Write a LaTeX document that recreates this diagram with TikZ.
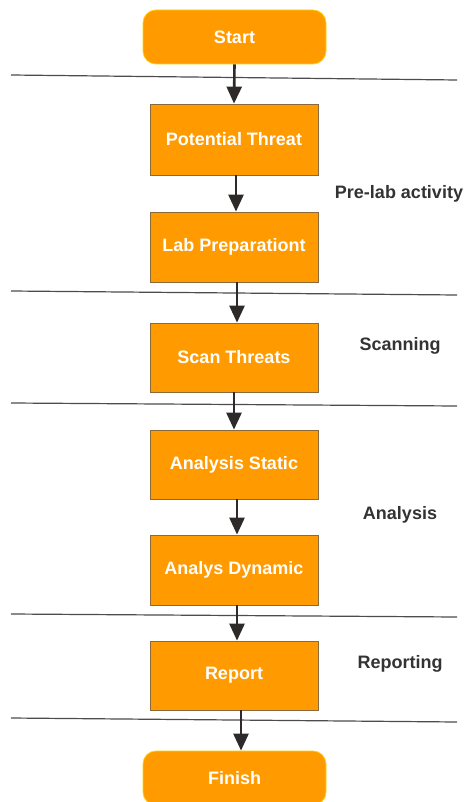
\documentclass[tikz,border=0pt]{standalone}
\usepackage{fontspec}
\setmainfont{Liberation Sans}
\usetikzlibrary{arrows.meta}
\definecolor{boxorange}{HTML}{FF9A00}
\definecolor{boxedge}{HTML}{8A6A3A}
\definecolor{roundedge}{HTML}{FFD000}
\definecolor{arrowdark}{HTML}{2E2A2A}
\definecolor{labeltext}{HTML}{333333}
\tikzset{
  stepbox/.style={draw=boxedge, line width=0.8pt, fill=boxorange, minimum width=168pt, inner sep=0pt,
    text=white, font=\bfseries\fontsize{18}{21}\selectfont},
  termbox/.style={draw=roundedge, line width=0.8pt, fill=boxorange, rounded corners=13pt,
    minimum width=183pt, minimum height=54pt, inner sep=0pt,
    text=white, font=\bfseries\fontsize{18}{21}\selectfont},
  flowarrow/.style={draw=arrowdark, line width=2.6pt, -{Triangle[width=15pt,length=17pt]}},
  phaseline/.style={draw=gray!60!black, line width=1.2pt},
  phaselabel/.style={text=labeltext, font=\bfseries\fontsize{18}{21}\selectfont, inner sep=0pt}
}
\begin{document}
\begin{tikzpicture}[x=1pt,y=-1pt]
\useasboundingbox (0,0) rectangle (466,802);
\fill[white] (0,0) rectangle (466,802);

% phase separator lines
\coordinate (l1a) at (11,75);  \coordinate (l1b) at (457,80);
\coordinate (l2a) at (11,291); \coordinate (l2b) at (457,295);
\coordinate (l3a) at (11,403); \coordinate (l3b) at (457,406);
\coordinate (l4a) at (11,614); \coordinate (l4b) at (457,617);
\coordinate (l5a) at (11,718); \coordinate (l5b) at (457,722);
\draw[phaseline] (l1a) -- (l1b);
\draw[phaseline] (l2a) -- (l2b);
\draw[phaseline] (l3a) -- (l3b);
\draw[phaseline] (l4a) -- (l4b);
\draw[phaseline] (l5a) -- (l5b);

% nodes
\node[termbox] (start) at (234.5,37) {Start};
\node[stepbox, minimum height=71pt] (threat) at (234,139.5) {Potential Threat};
\node[stepbox, minimum height=70pt] (prep) at (234,247) {Lab Preparationt};
\node[stepbox, minimum height=69pt] (scan) at (234,357.5) {Scan Threats};
\node[stepbox, minimum height=69pt] (static) at (234,464.5) {Analysis Static};
\node[stepbox, minimum height=70pt] (dynamic) at (234,570) {Analys Dynamic};
\node[stepbox, minimum height=69pt] (report) at (234,675.5) {Report};
\node[termbox] (finish) at (234.5,778) {Finish};

% phase labels
\node[phaselabel] (prelab) at (399,194) {Pre-lab activity};
\node[phaselabel] (scanning) at (400,346) {Scanning};
\node[phaselabel] (analysis) at (400,515) {Analysis};
\node[phaselabel] (reporting) at (400,664) {Reporting};

% arrows
\draw[flowarrow] (start.south) -- (threat.north);
\draw[flowarrow] ([xshift=2pt]threat.south) -- ([xshift=2pt]prep.north);
\draw[flowarrow] ([xshift=3pt]prep.south) -- ([xshift=3pt]scan.north);
\draw[flowarrow] (scan.south) -- (static.north);
\draw[flowarrow] ([xshift=3pt]static.south) -- ([xshift=3pt]dynamic.north);
\draw[flowarrow] ([xshift=3pt]dynamic.south) -- ([xshift=3pt]report.north);
\draw[flowarrow] ([xshift=7pt]report.south) -- ([xshift=6.5pt]finish.north);
\end{tikzpicture}
\end{document}
